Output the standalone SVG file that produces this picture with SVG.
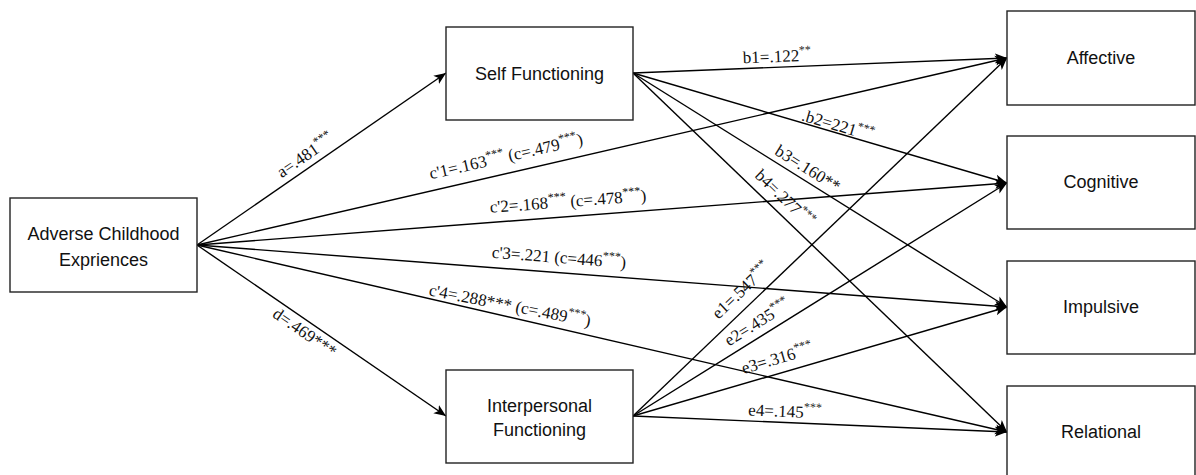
<svg xmlns="http://www.w3.org/2000/svg" width="1196" height="475" viewBox="0 0 1196 475">
  <defs>
    <marker id="arrow" markerUnits="userSpaceOnUse" markerWidth="14" markerHeight="12" refX="12" refY="5" orient="auto" viewBox="0 0 14 10">
      <path d="M0,0 L12,5 L0,10 L3,5 z" fill="#000"/>
    </marker>
    <style>
      .box { fill: #fff; stroke: #222; stroke-width: 1.4; }
      .node-label { font-family: "Liberation Sans", Arial, sans-serif; font-size: 18px; fill: #111; text-anchor: middle; }
      .edge { fill: none; stroke: #000; stroke-width: 1.4; marker-end: url(#arrow); }
      .edge-label { font-family: "Liberation Serif", "Times New Roman", serif; font-size: 17px; fill: #111; text-anchor: middle; }
      .sup { font-size: 12px; }
    </style>
  </defs>

  <rect width="1196" height="475" fill="#fff"/>

  <!-- connectors -->
  <g id="connectors">
    <!-- predictor to mediators -->
    <g id="edge-a">
      <path class="edge" d="M197,245 L446,73"/>
      <text class="edge-label" transform="translate(305,155) rotate(-34.5)" y="6">a=.481<tspan class="sup" baseline-shift="super">***</tspan></text>
    </g>
    <g id="edge-d">
      <path class="edge" d="M197,245 L446,416"/>
      <text class="edge-label" transform="translate(305,332) rotate(34.5)" y="6">d=.469***</text>
    </g>

    <!-- direct paths -->
    <g id="edge-c1">
      <path class="edge" d="M197,245 L1007,58"/>
      <text class="edge-label" transform="translate(506,156) rotate(-12.9)" y="6">c'1=.163<tspan class="sup" baseline-shift="super">***</tspan> (c=.479<tspan class="sup" baseline-shift="super">***</tspan>)</text>
    </g>
    <g id="edge-c2">
      <path class="edge" d="M197,245 L1007,183"/>
      <text class="edge-label" transform="translate(568,201) rotate(-4.3)" y="6">c'2=.168<tspan class="sup" baseline-shift="super">***</tspan> (c=.478<tspan class="sup" baseline-shift="super">***</tspan>)</text>
    </g>
    <g id="edge-c3">
      <path class="edge" d="M197,245 L1007,307"/>
      <text class="edge-label" transform="translate(559,257) rotate(4.45)" y="6">c'3=.221 (c=446<tspan class="sup" baseline-shift="super">***</tspan>)</text>
    </g>
    <g id="edge-c4">
      <path class="edge" d="M197,245 L1007,432"/>
      <text class="edge-label" transform="translate(510,305) rotate(11)" y="6">c'4=.288*** (c=.489<tspan class="sup" baseline-shift="super">***</tspan>)</text>
    </g>

    <!-- self functioning to outcomes -->
    <g id="edge-b1">
      <path class="edge" d="M633,73 L1007,58"/>
      <text class="edge-label" transform="translate(777,56) rotate(-2.3)" y="6">b1=.122<tspan class="sup" baseline-shift="super">**</tspan></text>
    </g>
    <g id="edge-b2">
      <path class="edge" d="M633,73 L1007,183"/>
      <text class="edge-label" transform="translate(838,125) rotate(16.4)" y="6">.b2=221<tspan class="sup" baseline-shift="super">***</tspan></text>
    </g>
    <g id="edge-b3">
      <path class="edge" d="M633,73 L1007,307"/>
      <text class="edge-label" transform="translate(808,168) rotate(32)" y="6">b3=.160**</text>
    </g>
    <g id="edge-b4">
      <path class="edge" d="M633,73 L1007,432"/>
      <text class="edge-label" transform="translate(785,198) rotate(43.8)" y="6">b4=.277<tspan class="sup" baseline-shift="super">***</tspan></text>
    </g>

    <!-- interpersonal functioning to outcomes -->
    <g id="edge-e1">
      <path class="edge" d="M633,416 L1007,58"/>
      <text class="edge-label" transform="translate(741,290) rotate(-43.7)" y="6">e1=.547<tspan class="sup" baseline-shift="super">***</tspan></text>
    </g>
    <g id="edge-e2">
      <path class="edge" d="M633,416 L1007,183"/>
      <text class="edge-label" transform="translate(757,322) rotate(-31.9)" y="6">e2=.435<tspan class="sup" baseline-shift="super">***</tspan></text>
    </g>
    <g id="edge-e3">
      <path class="edge" d="M633,416 L1007,307"/>
      <text class="edge-label" transform="translate(777,358) rotate(-16.2)" y="6">e3=.316<tspan class="sup" baseline-shift="super">***</tspan></text>
    </g>
    <g id="edge-e4">
      <path class="edge" d="M633,416 L1007,432"/>
      <text class="edge-label" transform="translate(785,411) rotate(2.45)" y="6">e4=.145<tspan class="sup" baseline-shift="super">***</tspan></text>
    </g>
  </g>

  <!-- nodes -->
  <g id="node-ace">
    <rect class="box" x="10" y="198" width="187" height="94"/>
    <text class="node-label" x="103.5" y="240">Adverse Childhood</text>
    <text class="node-label" x="103.5" y="266">Expriences</text>
  </g>
  <g id="node-self">
    <rect class="box" x="446" y="27" width="187" height="93"/>
    <text class="node-label" x="539.5" y="80">Self Functioning</text>
  </g>
  <g id="node-interpersonal">
    <rect class="box" x="446" y="370" width="187" height="93"/>
    <text class="node-label" x="539.5" y="412">Interpersonal</text>
    <text class="node-label" x="539.5" y="436">Functioning</text>
  </g>
  <g id="node-affective">
    <rect class="box" x="1007" y="11" width="188" height="94"/>
    <text class="node-label" x="1101" y="64">Affective</text>
  </g>
  <g id="node-cognitive">
    <rect class="box" x="1007" y="136" width="188" height="93"/>
    <text class="node-label" x="1101" y="188">Cognitive</text>
  </g>
  <g id="node-impulsive">
    <rect class="box" x="1007" y="261" width="188" height="93"/>
    <text class="node-label" x="1101" y="313">Impulsive</text>
  </g>
  <g id="node-relational">
    <rect class="box" x="1007" y="386" width="188" height="94"/>
    <text class="node-label" x="1101" y="438">Relational</text>
  </g>
</svg>
